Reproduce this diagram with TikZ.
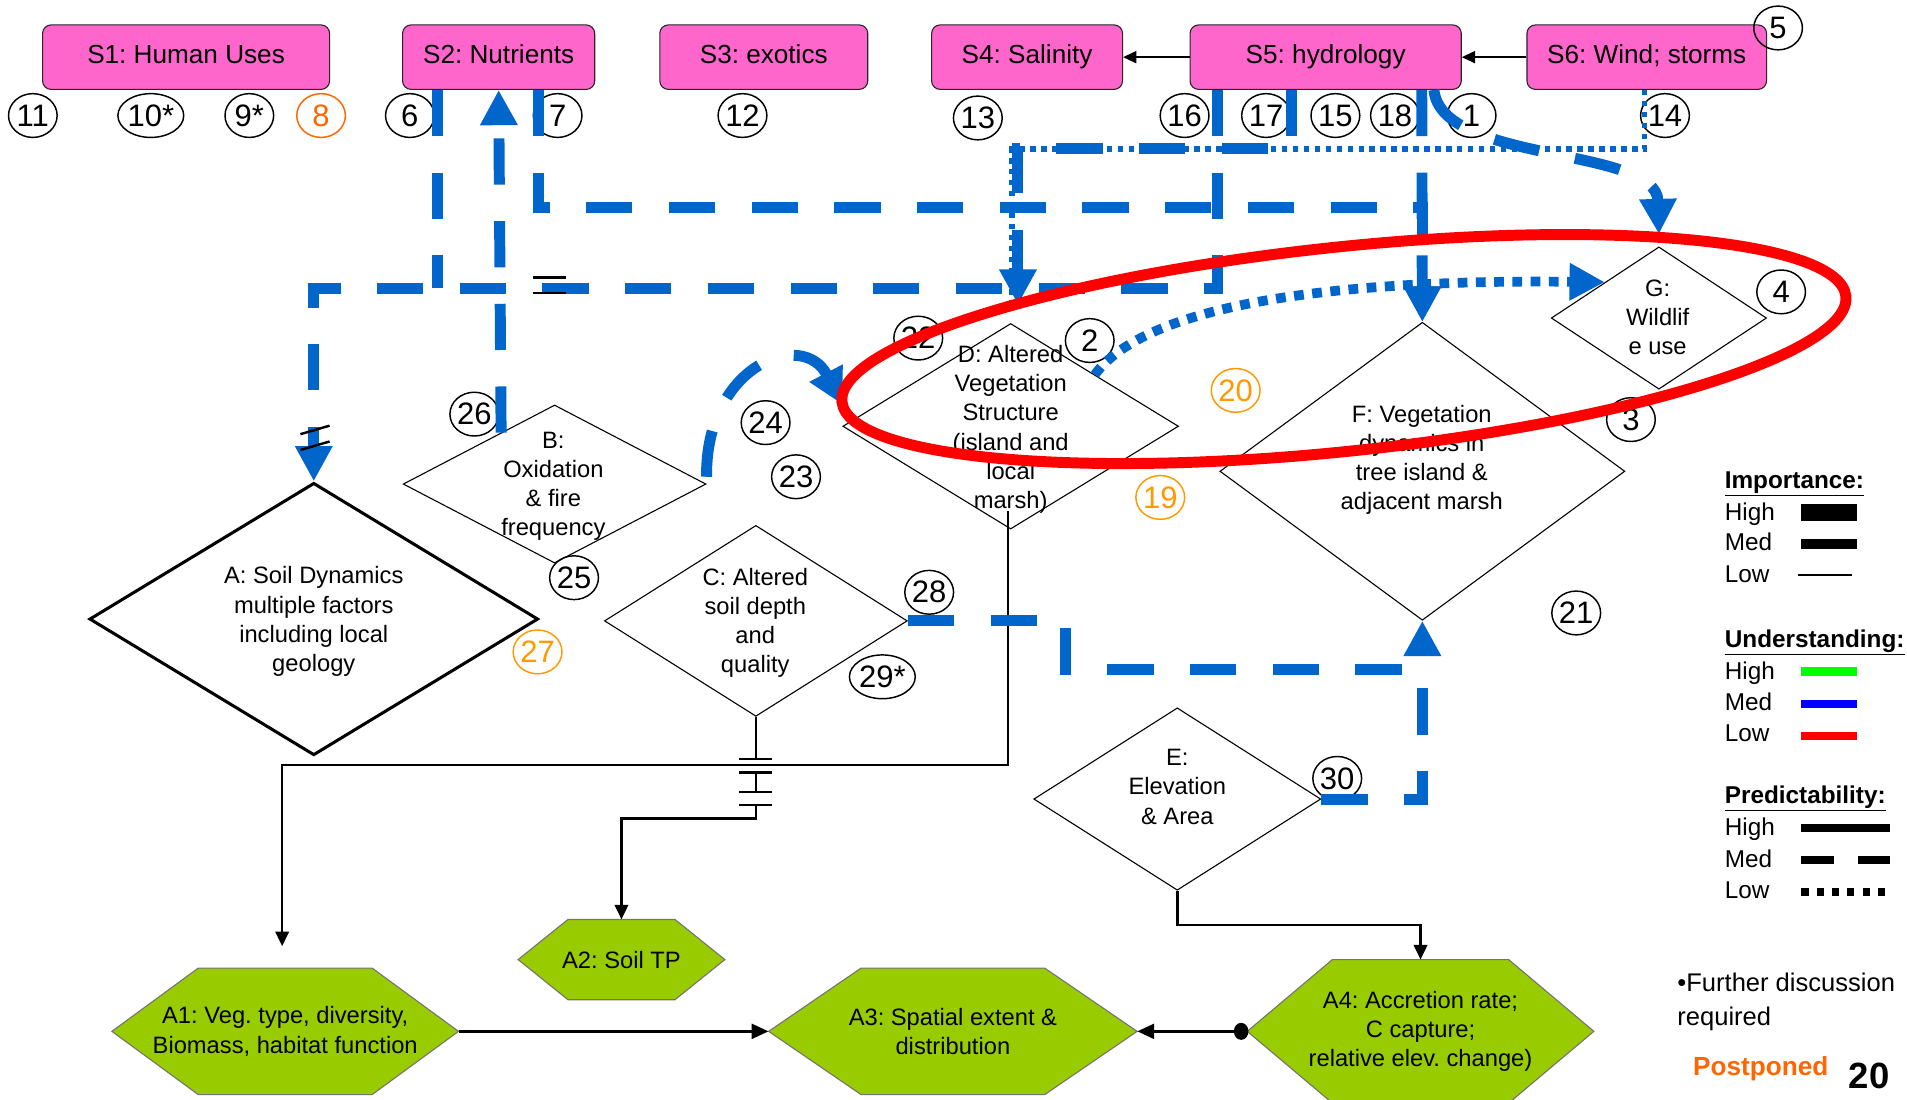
\documentclass[tikz,border=0pt]{standalone}
\usepackage{fontspec}
\setmainfont{Liberation Sans}
\usetikzlibrary{arrows.meta,shapes.geometric}
\definecolor{pinkbox}{HTML}{FF66CC}
\definecolor{lblue}{HTML}{0066CC}
\definecolor{hexgreen}{HTML}{99CC00}
\definecolor{orgA}{HTML}{FF6600}
\definecolor{orgB}{HTML}{FF9900}
\definecolor{lgreen}{HTML}{00FF00}
\definecolor{pblue}{HTML}{0000FF}
\newcommand\hexoutline[2]{%
  \path[hexfill] (#1.west) -- ([xshift=#2pt]#1.north west) -- ([xshift=-#2pt]#1.north east)
    -- (#1.east) -- ([xshift=-#2pt]#1.south east) -- ([xshift=#2pt]#1.south west) -- cycle;}
\frenchspacing
\begin{document}
\begin{tikzpicture}[x=1pt,y=-1pt,
  sbox/.style={draw=black!85, line width=0.9pt, fill=pinkbox, rounded corners=7pt,
    minimum height=53pt, inner sep=0pt, text height=15pt, text depth=4pt,
    font=\fontsize{21.5}{26}\selectfont},
  num/.style={draw=black, line width=1.2pt, ellipse, minimum width=40pt, minimum height=36pt,
    inner sep=0pt, font=\fontsize{25.5}{25}\selectfont},
  numo/.style={num, draw=orgA, text=orgA},
  numa/.style={num, draw=orgB, text=orgB},
  dia/.style={draw=black, diamond, inner sep=0pt, line width=0.9pt},
  dtext/.style={align=center, inner sep=0pt, font=\fontsize{19.5}{24}\selectfont},
  hexnode/.style={inner sep=0pt, outer sep=0pt},
  hexfill/.style={fill=hexgreen, draw=black!55, line width=0.9pt},
  bline/.style={draw=lblue, line width=9pt},
  bdash/.style={bline, dash pattern=on 38pt off 30pt},
  bdot/.style={draw=lblue, line width=8pt, dash pattern=on 8pt off 7pt},
  bdotthin/.style={draw=lblue, line width=4.5pt, dash pattern=on 4.5pt off 4.5pt},
  btip/.style={-{Triangle[length=29pt,width=29pt]}},
  kline/.style={draw=black, line width=2pt},
  ktip/.style={-{Triangle[length=12pt,width=11pt]}},
  ktipbig/.style={-{Triangle[length=14pt,width=12pt]}},
  leg/.style={anchor=base west, inner sep=0pt, font=\fontsize{20}{24}\selectfont},
  legh/.style={anchor=base west, inner sep=0pt, font=\fontsize{20}{24}\selectfont\bfseries},
]
\fill[white] (0,0) rectangle (1568,904);
\useasboundingbox (0,0) rectangle (1568,904);

% ---------- stressor boxes ----------
\node[sbox, minimum width=236pt] (S1) at (153,47) {S1: Human Uses};
\node[sbox, minimum width=158pt] (S2) at (410,47) {S2: Nutrients};
\node[sbox, minimum width=171pt] (S3) at (628,47) {S3: exotics};
\node[sbox, minimum width=157pt] (S4) at (844.5,47) {S4: Salinity};
\node[sbox, minimum width=223pt] (S5) at (1090,47) {S5: hydrology};
\node[sbox, minimum width=197pt] (S6) at (1354,47) {S6: Wind; storms};

% ---------- diamonds ----------
\node[dia, line width=2.5pt, minimum width=369pt, minimum height=224pt] (A) at (258,509) {};
\node[dia, minimum width=249pt, minimum height=130pt] (B) at (456,398) {};
\node[dia, minimum width=249pt, minimum height=157pt] (C) at (621.5,510.5) {};
\node[dia, minimum width=276pt, minimum height=169pt] (D) at (831,350.5) {};
\node[dia, minimum width=236pt, minimum height=150pt] (E) at (968,657) {};
\node[dia, minimum width=333pt, minimum height=245pt] (F) at (1169.5,387.5) {};
\node[dia, minimum width=177pt, minimum height=117pt] (G) at (1364,261.5) {};

\node[dtext] (At) at (258,511) {A: Soil Dynamics\\multiple factors\\including local\\geology};
\node[dtext] (Bt) at (455,400) {B:\\Oxidation\\\& fire\\frequency};
\node[dtext] (Ct) at (621,512) {C: Altered\\soil depth\\and\\quality};
\node[dtext] (Dt) at (831,353) {D: Altered\\Vegetation\\Structure\\(island and\\local\\marsh)};
\node[dtext] (Et) at (968,647) {E:\\Elevation\\\& Area};
\node[dtext] (Ft) at (1169,378) {F: Vegetation\\dynamics in\\tree island \&\\adjacent marsh};
\node[dtext] (Gt) at (1363,261) {G:\\Wildlif\\e use};

% ---------- hexagons ----------
\node[hexnode, minimum width=285pt, minimum height=104pt] (A1) at (234.5,848) {};
\hexoutline{A1}{71}
\node[dtext] (A1t) at (A1) {A1: Veg. type, diversity,\\Biomass, habitat function};
\node[hexnode, minimum width=170pt, minimum height=66pt] (A2) at (511,789) {};
\hexoutline{A2}{41}
\node[dtext] (A2t) at (A2) {A2: Soil TP};
\node[hexnode, minimum width=303pt, minimum height=104pt] (A3) at (783.5,848) {};
\hexoutline{A3}{76}
\node[dtext] (A3t) at (A3) {A3: Spatial extent \&\\distribution};
\node[hexnode, minimum width=285pt, minimum height=118pt] (A4) at (1168,848) {};
\hexoutline{A4}{70}
\node[dtext] (A4t) at (A4) {A4: Accretion rate;\\C capture;\\relative elev. change)};

% ---------- numbered circles ----------
\node[num] (n11) at (27,95) {11};
\node[num] (n10) at (124,95) {10*};
\node[num] (n9) at (205,95) {9*};
\node[numo] (n8) at (264,95) {8};
\node[num] (n6) at (337,95) {6};
\node[num] (n7) at (458.5,95) {7};
\node[num] (n12) at (610.5,95) {12};
\node[num] (n13) at (804,97) {13};
\node[num] (n16) at (974,95) {16};
\node[num] (n17) at (1041,95) {17};
\node[num] (n15) at (1098,95) {15};
\node[num] (n18) at (1147,95) {18};
\node[num] (n1) at (1210,95) {1};
\node[num] (n14) at (1369,95) {14};
\node[num] (n5) at (1462,23) {5};
\node[num] (n4) at (1464.5,240) {4};
\node[num] (n3) at (1341,345) {3};
\node[num] (n21) at (1296,504) {21};
\node[num] (n2) at (896,280) {2};
\node[num] (n22) at (755,278) {22};
\node[numa] (n20) at (1016,321) {20};
\node[numa] (n19) at (954,409) {19};
\node[num] (n24) at (629.5,347.5) {24};
\node[num] (n23) at (654.5,392) {23};
\node[num] (n28) at (764,487) {28};
\node[num] (n29) at (725.5,556.5) {29*};
\node[num] (n26) at (390,340.5) {26};
\node[num] (n25) at (472,475) {25};
\node[numa] (n27) at (442,536) {27};
\node[num] (n30) at (1099.5,640) {30};

% ---------- black connectors ----------
\draw[line width=1.5pt, -{Triangle[length=11pt,width=10pt]}] (S5.west) -- (S4.east);
\draw[line width=1.5pt, -{Triangle[length=11pt,width=10pt]}] (S6.west) -- (S5.east);
\draw[kline, ktip] ([xshift=-2pt,yshift=15pt]D.south) -- (829,629) -| ([xshift=-2.5pt,yshift=18pt]A1.north);
\draw[kline] (C.south) -- (621.5,624);
\draw[kline] (608,624) -- (635,624);
\draw[kline] (608,635) -- (635,635);
\draw[kline] (621.5,635) -- (621.5,651);
\draw[kline] (608,651) -- (635,651);
\draw[kline] (608,662) -- (635,662);
\draw[kline, ktip] (621.5,662) -- (621.5,673) -| (A2.north);
\draw[kline, ktip] (E.south) -- ++(0,28) -| (A4.north);
\draw[line width=2.8pt, ktipbig] (A1.east) -- (A3.west);
\draw[line width=2.8pt, ktipbig] ([xshift=-5pt]A4.west) -- (A3.east);
\fill ([xshift=-5pt]A4.west) ellipse [x radius=6pt, y radius=7pt];

% ---------- blue connectors ----------
\draw[bdash, btip] ([xshift=-89pt]S5.south) -- ++(0,163) -| (A.north);
\draw[bdash] ([xshift=-50pt]S2.south) -- ++(0,163);
\draw[bdash, btip] ([xshift=33pt]S2.south) -- ++(0,97) -| (F.north);
\draw[bdash, btip] ([xshift=79pt]S5.south) -- (F.north);
\draw[bdash, btip] ([xshift=-28pt]S5.south) -- ++(0,48.5) -| ([xshift=6pt,yshift=15pt]D.north);
\draw[bdotthin] ([xshift=-2pt]S6.south) -- ++(0,48.5) -| ([xshift=1pt,yshift=15pt]D.north);
\draw[bdash, btip] ([xshift=89pt]S5.south) .. controls (1185,135) and (1362,120) .. ([yshift=10pt]G.north);
\draw[bdot, btip] (D.north east) .. controls (950,240) and (1150,230) .. (G.north west);
\draw[bdash, btip] ([yshift=6pt]B.east) .. controls (580,300) and (660,270) .. ([yshift=18pt]D.west);
\draw[bdash, btip] ([xshift=18.5pt,yshift=9.5pt]B.north west) -- (S2.south);
\draw[bdash, btip] (C.east) -- ++(130,0) |- ([yshift=-40pt]F.south) -- (F.south);
\draw[bdash] (E.east) -| ([yshift=-40pt]F.south);

% break marks
\draw[line width=2pt] (438,228) -- (465,228) (438,241) -- (465,241);
\draw[line width=2pt] (247,357) -- (271,350) (247,370) -- (271,363);

% ---------- red ellipse ----------
\draw[red, line width=9pt, rotate around={6:(1105,287)}] (1105,287) ellipse [x radius=415pt, y radius=84pt];

% ---------- legend ----------
\node[legh] (Limp) at (1418,402) {\underline{Importance:}};
\node[leg] at (1418,428) {High};
\node[leg] at (1418,453) {Med};
\node[leg] at (1418,479) {Low};
\fill (1481,414.5) rectangle (1527,428);
\fill (1481,443) rectangle (1527,451);
\draw[line width=2pt] (1478,473) -- (1523,473);
\node[legh] (Lund) at (1418,532) {\underline{Understanding:}};
\node[leg] at (1418,558.5) {High};
\node[leg] at (1418,584) {Med};
\node[leg] at (1418,610) {Low};
\fill[lgreen] (1481,548.5) rectangle (1527,555.5);
\fill[pblue] (1481,575.5) rectangle (1527,582);
\fill[red] (1481,601.5) rectangle (1527,608.5);
\node[legh] (Lpre) at (1418,661) {\underline{Predictability:}};
\node[leg] at (1418,687) {High};
\node[leg] at (1418,713) {Med};
\node[leg] at (1418,739) {Low};
\fill (1481,677.5) rectangle (1554,684);
\fill (1481,704) rectangle (1508,710);
\fill (1528,704) rectangle (1554,710);
\draw[line width=7pt, dash pattern=on 6pt off 6.6pt] (1481,733.5) -- (1554,733.5);
\node[leg, font=\fontsize{21}{26}\selectfont] (Lfd) at (1379,815.5) {\textbullet Further discussion};
\node[leg, font=\fontsize{21}{26}\selectfont] (Lrq) at (1379,843) {required};
\node[leg, font=\fontsize{21.5}{26}\selectfont\bfseries, text=orgA] (Lpp) at (1392,884) {Postponed};
\node[leg, font=\fontsize{30}{36}\selectfont\bfseries] (Lpg) at (1520,895) {20};
\end{tikzpicture}
\end{document}
